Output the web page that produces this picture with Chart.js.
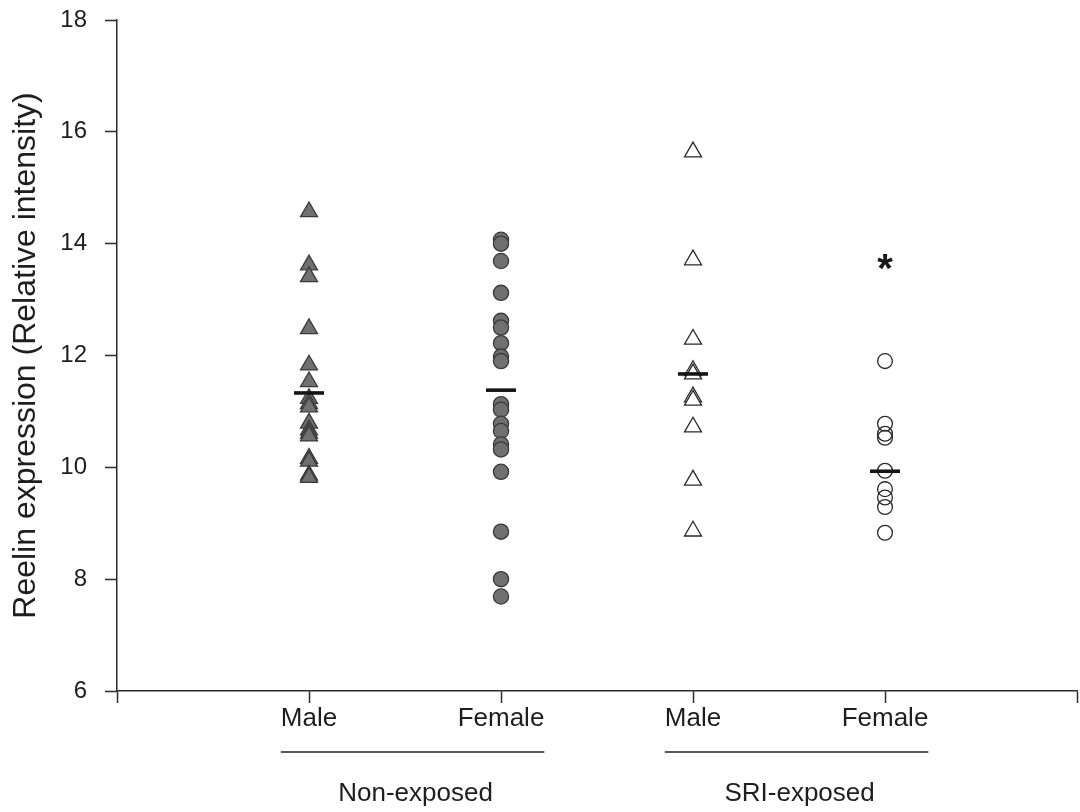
<!DOCTYPE html>
<html>
<head>
<meta charset="utf-8">
<script src="https://cdn.jsdelivr.net/npm/chart.js@4.4.1/dist/chart.umd.min.js"></script>
<style>
  html, body { margin: 0; padding: 0; background: #ffffff; }
  #wrap { width: 1080px; height: 812px; position: relative; }
</style>
</head>
<body>
<div id="wrap"><canvas id="chart"></canvas></div>
<script>
// Category labels along the x axis (positions 1..4), with empty ends
const tickLabels = ['', 'Male', 'Female', 'Male', 'Female', ''];
const exposureGroups = ['Non-exposed', 'SRI-exposed'];

// Reelin expression per animal (relative intensity)
const nonExposedMale = [14.57, 13.62, 13.41, 12.48, 11.83, 11.53, 11.23, 11.14, 11.08,
                        10.79, 10.67, 10.61, 10.56, 10.16, 10.11, 9.86, 9.82];
const nonExposedFemale = [14.07, 14.00, 13.69, 13.12, 12.62, 12.50, 12.22, 11.98, 11.90,
                          11.13, 11.03, 10.78, 10.65, 10.41, 10.32, 9.92, 8.85, 8.00, 7.69];
const sriExposedMale = [15.64, 13.71, 12.29, 11.73, 11.67, 11.26, 11.20, 10.72, 9.77, 8.86];
const sriExposedFemale = [11.90, 10.78, 10.60, 10.53, 9.94, 9.61, 9.46, 9.29, 8.83];

// Group means (horizontal bars)
const groupMeans = [11.33, 11.38, 11.67, 9.93];

// Significance marks per group and the level they are drawn at
const significance = ['', '', '', '*'];
const significanceLevel = 13.7;

const FONT = '"Liberation Sans", Arial, sans-serif';
const TEXT = '#1e1e1e';
const AXIS = '#2a2a2a';

function pointsAt(xPos, values) {
  return values.map(v => ({ x: xPos, y: v }));
}

const markerFill = '#707070';
const markerEdge = '#3a3a3a';

const datasets = [
  {
    label: 'Mean',
    data: groupMeans.map((m, i) => ({ x: i + 1, y: m })),
    pointStyle: 'line',
    pointRadius: 15,
    pointBorderWidth: 3.6,
    pointBorderColor: '#151515',
    pointBackgroundColor: '#151515',
    showLine: false,
    order: 0
  },
  {
    label: 'Non-exposed Male',
    data: pointsAt(1, nonExposedMale),
    pointStyle: 'triangle',
    pointRadius: 9.8,
    pointBackgroundColor: markerFill,
    pointBorderColor: markerEdge,
    pointBorderWidth: 1.3,
    order: 1
  },
  {
    label: 'Non-exposed Female',
    data: pointsAt(2, nonExposedFemale),
    pointStyle: 'circle',
    pointRadius: 7.6,
    pointBackgroundColor: markerFill,
    pointBorderColor: markerEdge,
    pointBorderWidth: 1.3,
    order: 1
  },
  {
    label: 'SRI-exposed Male',
    data: pointsAt(3, sriExposedMale),
    pointStyle: 'triangle',
    pointRadius: 9.8,
    pointBackgroundColor: '#ffffff',
    pointBorderColor: '#2a2a2a',
    pointBorderWidth: 1.3,
    order: 1
  },
  {
    label: 'SRI-exposed Female',
    data: pointsAt(4, sriExposedFemale),
    pointStyle: 'circle',
    pointRadius: 7.4,
    pointBackgroundColor: 'rgba(255,255,255,0)',
    pointBorderColor: '#2a2a2a',
    pointBorderWidth: 1.3,
    order: 1
  }
];

// Draws the exposure-group brackets, their captions and significance marks
const groupCaptions = {
  id: 'groupCaptions',
  afterDraw(chart) {
    const { ctx } = chart;
    const xs = chart.scales.x;
    const ys = chart.scales.y;
    ctx.save();
    ctx.font = '26px ' + FONT;
    exposureGroups.forEach((name, g) => {
      const a = 2 * g + 1, b = 2 * g + 2;
      const left = xs.getPixelForValue(a) - ctx.measureText(tickLabels[a]).width / 2;
      const right = xs.getPixelForValue(b) + ctx.measureText(tickLabels[b]).width / 2;
      ctx.strokeStyle = '#5a5a5a';
      ctx.lineWidth = 2;
      ctx.beginPath();
      ctx.moveTo(left, 752);
      ctx.lineTo(right, 752);
      ctx.stroke();
      ctx.fillStyle = TEXT;
      ctx.textAlign = 'center';
      ctx.textBaseline = 'middle';
      ctx.fillText(name, (left + right) / 2 + 3, 794);
    });
    ctx.font = 'bold 40px ' + FONT;
    ctx.textAlign = 'center';
    ctx.textBaseline = 'alphabetic';
    ctx.fillStyle = '#1a1a1a';
    significance.forEach((mark, i) => {
      if (!mark) return;
      const px = xs.getPixelForValue(i + 1);
      const py = ys.getPixelForValue(significanceLevel);
      ctx.fillText(mark, px, py + 22);
    });
    ctx.restore();
  }
};

new Chart(document.getElementById('chart'), {
  type: 'scatter',
  data: { datasets },
  plugins: [groupCaptions],
  options: {
    responsive: true,
    maintainAspectRatio: false,
    animation: false,
    events: [],
    layout: { autoPadding: false, padding: { top: 20, right: 3, left: 0, bottom: 0 } },
    plugins: { legend: { display: false }, tooltip: { enabled: false } },
    scales: {
      x: {
        type: 'linear',
        min: 0,
        max: 5,
        afterFit(scale) {
          scale.height = 121;
          scale.paddingLeft = 0;
          scale.paddingRight = 0;
        },
        border: { display: true, color: AXIS, width: 1.5 },
        grid: { drawOnChartArea: false, drawTicks: true, tickLength: 12, tickColor: AXIS, tickWidth: 1.5 },
        ticks: {
          stepSize: 1,
          autoSkip: false,
          maxRotation: 0,
          padding: 0,
          color: TEXT,
          font: { family: FONT, size: 26 },
          callback: v => tickLabels[v] ?? ''
        }
      },
      y: {
        min: 6,
        max: 18,
        afterFit(scale) {
          scale.width = 117;
          scale.paddingTop = 0;
          scale.paddingBottom = 0;
        },
        border: { display: true, color: AXIS, width: 1.5 },
        grid: { drawOnChartArea: false, drawTicks: true, tickLength: 12, tickColor: AXIS, tickWidth: 1.5 },
        ticks: {
          stepSize: 2,
          padding: 18,
          color: TEXT,
          font: { family: FONT, size: 24 }
        },
        title: {
          display: true,
          text: 'Reelin expression (Relative intensity)',
          color: TEXT,
          font: { family: FONT, size: 32 },
          padding: { top: 7, bottom: 0 }
        }
      }
    }
  }
});
</script>
</body>
</html>
